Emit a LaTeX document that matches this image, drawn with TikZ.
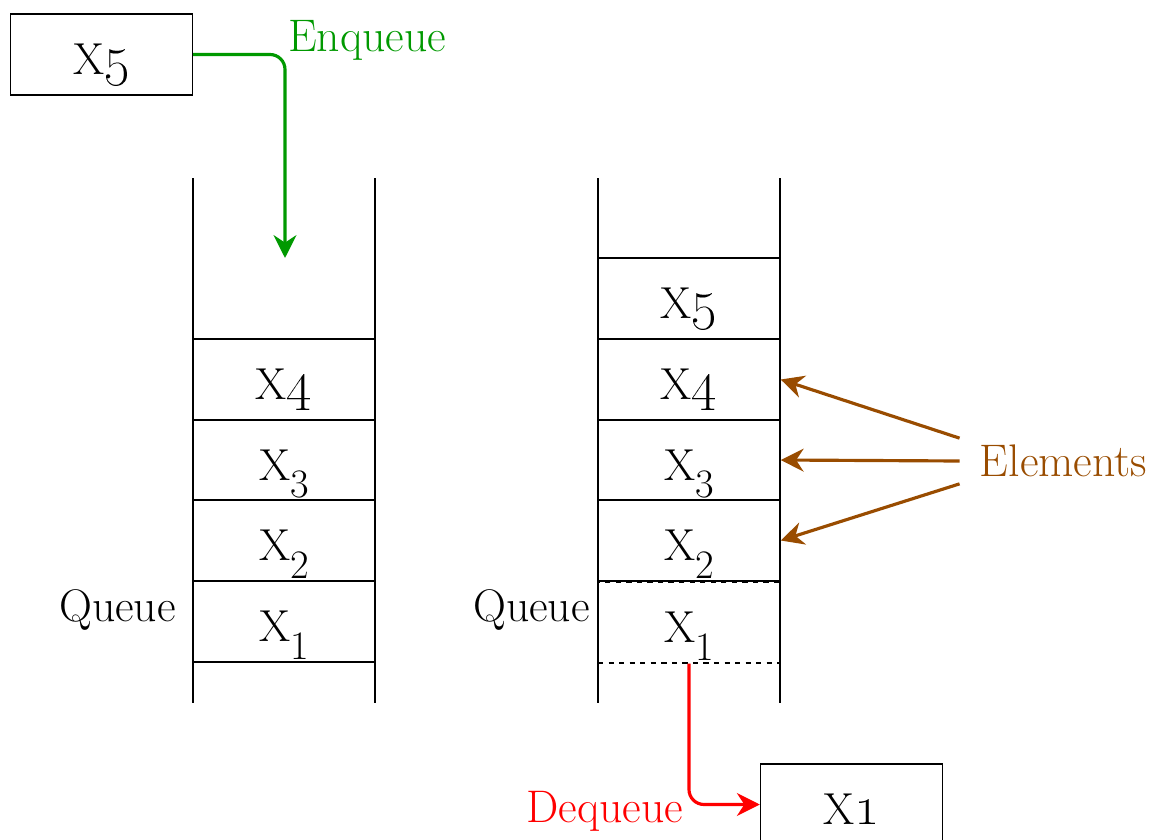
\documentclass[tikz,border=0pt]{standalone}
\usepackage{graphicx}
\usepackage{tikz}
\usetikzlibrary{arrows.meta, positioning}
\definecolor{cgreen}{HTML}{009900}
\definecolor{cred}{HTML}{FF0000}
\definecolor{cbrown}{HTML}{994C00}
% digit after X: old style, or lowered
\newcommand{\osdig}[1]{\scalebox{1.3}{\oldstylenums{#1}}}
\newcommand{\lodig}[1]{\raisebox{-10pt}{\fontsize{23}{23}\selectfont #1}}
\tikzset{
  cell/.style={draw, line width=0.85pt, minimum width=3.64cm, minimum height=1.615cm,
    inner sep=0pt, text height=23pt, text depth=0pt, font=\fontsize{25.5}{30}\selectfont},
  rail/.style={line width=0.85pt},
  lbl/.style={font=\fontsize{26}{30}\selectfont, inner sep=0pt},
  flow/.style={-{Stealth[length=13pt, width=13pt]}, line width=1.8pt, rounded corners=0.3cm},
}

\begin{document}
\begin{tikzpicture}[x=0.02cm, y=-0.02cm]
  \useasboundingbox (0,0) rectangle (1157,839);
  % incoming element
  \node[cell] (inbox) at (101.5,54.5) {X\osdig{5}};
  \node[lbl, cgreen] (enqlbl) at (367,40) {Enqueue};
  \coordinate (enq) at (285,258);
  \draw[flow, cgreen] (inbox.east) -| (enq);
  % left queue
  \draw[rail] (193,178) -- (193,703);
  \draw[rail] (375,178) -- (375,703);
  \node[cell] (l4) at (284,379.5) {X\osdig{4}};
  \foreach \i/\y in {3/460, 2/540.5, 1/621.5}
    \node[cell] (l\i) at (284,\y) {X\lodig{\i}};
  \node[lbl] (lq) at (117.5,610) {Queue};
  % right queue
  \draw[rail] (598,178) -- (598,703);
  \draw[rail] (780,178) -- (780,703);
  \node[cell] (r5) at (689,298.5) {X\osdig{5}};
  \node[cell] (r4) at (689,379.5) {X\osdig{4}};
  \foreach \i/\y in {3/460, 2/540.5}
    \node[cell] (r\i) at (689,\y) {X\lodig{\i}};
  \node[cell, dashed] (r1) at (689,622.5) {X\lodig{1}};
  \node[lbl] (rq) at (531.5,610) {Queue};
  % removed element
  \node[cell] (outbox) at (851.5,804.5) {X\osdig{1}};
  \node[lbl, cred] (deqlbl) at (605,811) {Dequeue};
  \draw[flow, cred] (r1.south) |- (outbox.west);
  % Annotations
  \node[lbl, cbrown, inner xsep=0.4cm, minimum height=0.9cm] (elem) at (1063.5,461) {Elements};
  \draw[flow, cbrown] (elem.north west) -- (r4.east);
  \draw[flow, cbrown] (elem.west) -- (r3.east);
  \draw[flow, cbrown] (elem.south west) -- (r2.east);
\end{tikzpicture}
\end{document}
